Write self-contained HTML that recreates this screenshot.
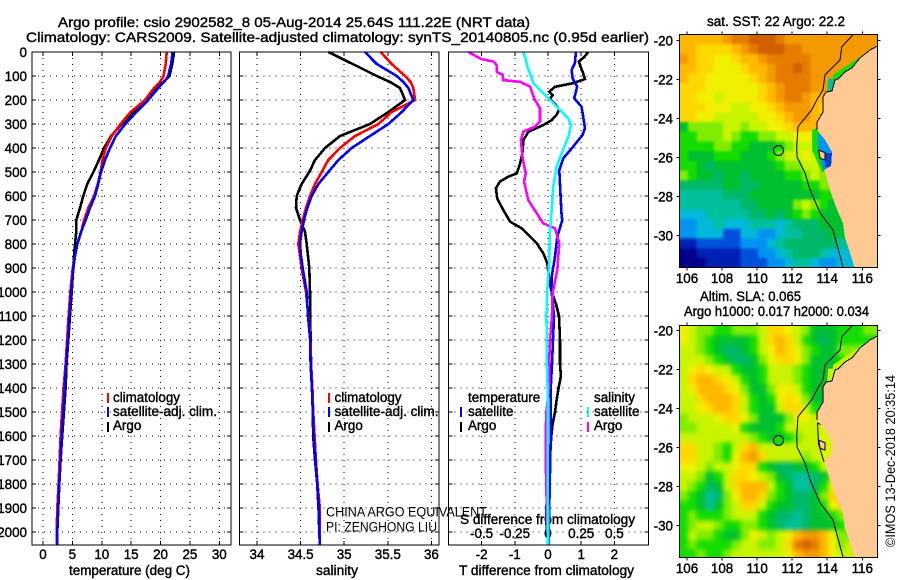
<!DOCTYPE html>
<html lang="en">
<head>
<meta charset="utf-8">
<title>Argo profile csio 2902582_8</title>
<style>
html,body{margin:0;padding:0;background:#fff;}
svg{display:block;font-family:"Liberation Sans",sans-serif;}
text{fill:#000;font-size:13.4px;stroke:#000;stroke-width:.4px;}
.thin{stroke:none;}
</style>
</head>
<body>
<svg id="chart" xmlns="http://www.w3.org/2000/svg" width="900" height="580" viewBox="0 0 900 580">
<rect width="900" height="580" fill="#fff"/>
<defs>
<clipPath id="clip-map-1"><rect x="679.3" y="34.3" width="198" height="233"/></clipPath>
<clipPath id="clip-map-2"><rect x="679.3" y="325.7" width="198" height="231.6"/></clipPath>
<filter id="blur-sst" filterUnits="userSpaceOnUse" x="640" y="0" width="260" height="300" color-interpolation-filters="sRGB"><feGaussianBlur stdDeviation="1.4"/></filter>
<filter id="blur-sla" filterUnits="userSpaceOnUse" x="640" y="290" width="260" height="290" color-interpolation-filters="sRGB"><feGaussianBlur stdDeviation="2.5"/></filter>
</defs>
<text x="58" y="27" style="font-size:14px" textLength="472" lengthAdjust="spacingAndGlyphs">Argo profile: csio 2902582_8 05-Aug-2014 25.64S 111.22E (NRT data)</text>
<text x="26" y="42" style="font-size:14px" textLength="623" lengthAdjust="spacingAndGlyphs">Climatology: CARS2009. Satellite-adjusted climatology: synTS_20140805.nc (0.95d earlier)</text>
<text x="69" y="575" textLength="121" lengthAdjust="spacingAndGlyphs">temperature (deg C)</text>
<text x="316" y="575" textLength="42" lengthAdjust="spacingAndGlyphs">salinity</text>
<text x="459" y="575" textLength="175" lengthAdjust="spacingAndGlyphs">T difference from climatology</text>
<text x="460" y="524" textLength="175" lengthAdjust="spacingAndGlyphs">S difference from climatology</text>
<text class="thin" x="326" y="516.5" textLength="161" lengthAdjust="spacingAndGlyphs">CHINA ARGO EQUIVALENT</text>
<text class="thin" x="326" y="531.5" textLength="111" lengthAdjust="spacingAndGlyphs">PI: ZENGHONG LIU</text>

<g>
<text x="113" y="402">climatology</text>
<text x="113" y="416" textLength="104" lengthAdjust="spacingAndGlyphs">satellite-adj. clim.</text>
<text x="113" y="430">Argo</text>
<rect x="107" y="393" width="2" height="10" fill="#f00"/>
<rect x="107" y="407" width="2" height="10" fill="#00f"/>
<rect x="107" y="422" width="2" height="10" fill="#000"/>
</g>
<g>
<text x="334.5" y="402">climatology</text>
<text x="334.5" y="416" textLength="104" lengthAdjust="spacingAndGlyphs">satellite-adj. clim.</text>
<text x="334.5" y="430">Argo</text>
<rect x="328" y="393" width="2" height="10" fill="#f00"/>
<rect x="328" y="407" width="2" height="10" fill="#00f"/>
<rect x="328" y="422" width="2" height="10" fill="#000"/>
</g>
<g>
<text x="468" y="402">temperature</text>
<text x="468" y="416">satellite</text>
<text x="468" y="430">Argo</text>
<text x="594" y="402">salinity</text>
<text x="594" y="416">satellite</text>
<text x="594" y="430">Argo</text>
<rect x="460" y="407" width="2" height="10" fill="#00f"/>
<rect x="460" y="422" width="2" height="10" fill="#000"/>
<rect x="587" y="407" width="2" height="10" fill="#0ff"/>
<rect x="587" y="422" width="2" height="10" fill="#f0f"/>
</g>

<text x="707" y="26" textLength="138" lengthAdjust="spacingAndGlyphs">sat. SST: 22 Argo: 22.2</text>
<text x="700" y="301" textLength="101" lengthAdjust="spacingAndGlyphs">Altim. SLA: 0.065</text>
<text x="684" y="316" textLength="185" lengthAdjust="spacingAndGlyphs">Argo h1000: 0.017 h2000: 0.034</text>
<text class="thin" transform="translate(895,547) rotate(-90)" style="font-size:14px" textLength="172" lengthAdjust="spacingAndGlyphs">©IMOS 13-Dec-2018 20:35:14</text>
</svg>

<script>
// ---------- profile data ----------
const depthLevels = [0,50,100,125,150,200,250,300,350,400,450,500,550,600,650,700,750,800,850,900,1000,1100,1200,1300,1400,1500,1600,1700,1800,1900,2000,2054];
const tempArgo = [22.3,22.0,21.5,20.5,19.06,17.47,15.37,13.39,11.6,10.38,9.53,8.57,7.54,6.86,6.3,5.67,5.65,5.45,5.27,5.16,4.88,4.6,4.3,4.0,3.85,3.55,3.27,3.0,2.66,2.6,2.44,2.44];
const tempClim = [21.04,20.87,20.5,19.9,18.9,17.36,14.9,13.2,11.7,10.7,10.1,9.8,9.3,8.7,7.7,7.0,6.5,5.85,5.45,5.05,4.65,4.35,4.1,3.85,3.5,3.23,3.0,2.83,2.66,2.44,2.33,2.4];
const tempSat = [22.06,21.8,21.3,20.6,19.6,17.9,15.9,14.0,12.4,11.4,10.55,9.87,9.4,8.85,8.0,7.26,6.47,5.84,5.45,5.16,4.82,4.5,4.25,3.95,3.7,3.46,3.18,3.0,2.78,2.6,2.44,2.44];
const salArgo = [34.818,35.098,35.373,35.526,35.64,35.698,35.507,35.296,34.952,34.78,34.665,34.6,34.512,34.455,34.447,34.493,34.55,34.57,34.585,34.6,34.608,34.61,34.615,34.62,34.63,34.64,34.645,34.665,34.69,34.705,34.715,34.72];
const salClim = [35.419,35.545,35.698,35.763,35.793,35.813,35.545,35.392,35.124,34.952,34.818,34.742,34.665,34.608,34.562,34.524,34.493,34.474,34.493,34.512,34.562,34.59,34.612,34.62,34.635,34.645,34.66,34.675,34.695,34.72,34.72,34.72];
const salSat = [35.239,35.373,35.602,35.679,35.736,35.793,35.66,35.507,35.296,35.086,34.933,34.818,34.704,34.627,34.577,34.539,34.512,34.493,34.505,34.524,34.57,34.585,34.61,34.615,34.63,34.64,34.65,34.67,34.69,34.71,34.715,34.72];

const dTArgoDepth = [0,20,40,60,85,113,130,145,165,180,195,215,240,265,285,304,332,367,422,464,506,519,540,568,610,658,707,735,797,839,881,950,1000,1050,1100,1200,1300,1350,1400,1450,1500,1550,1600,1700,1800,1900,1950,2000,2054];
const dTArgo = [1.21,1.1,.93,.98,1.05,1.11,.75,.21,.04,.14,.06,.2,.34,.24,.1,-.14,-.59,-.74,-.77,-.84,-.94,-1.19,-1.45,-1.57,-1.53,-1.35,-1.14,-.79,-.34,-.14,-.02,.04,.11,.24,.33,.36,.36,.39,.32,.26,.21,.14,.1,.05,0,-.05,-.06,-.02,0];
const dTSatDepth = [0,47,75,110,144,193,228,269,318,346,394,443,492,603,679,700,769,853,936,1000,1100,1200,1300,1400,1500,1600,1700,1800,1900,2000,2054];
const dTSat = [.84,.81,.71,.74,.88,.79,1.01,1.06,1.11,1.04,.76,.46,.34,.38,.41,.43,.28,.21,.11,.11,.18,.15,.12,.08,.08,.08,.07,.05,.04,.02,.02];
const dSSatDepth = [0,33,61,89,130,158,200,242,276,304,353,422,478,561,658,742,881,992,1100,1200,1300,1400,1500,1600,1700,1800,1900,2000,2054];
const dSSat = [-.186,-.166,-.156,-.136,-.11,-.06,.015,.09,.153,.173,.153,.103,.065,.04,.028,.015,.008,-.005,-.012,-.008,-.008,-.003,-.003,-.003,-.003,-.003,0,0,0];
const dSArgoDepth = [0,30,40,54,82,96,117,124,144,193,235,290,311,332,367,436,506,540,617,672,714,735,797,908,1006,1100,1200,1300,1400,1500,1600,1700,1800,1900,2000];
const dSArgo = [-.6,-.5,-.41,-.387,-.387,-.34,-.337,-.21,-.135,-.105,-.06,-.06,-.098,-.186,-.203,-.193,-.168,-.18,-.148,-.085,-.035,.053,.085,.07,.035,.03,.015,.008,.008,-.012,-.018,-.018,-.012,-.01,-.005];

// ---------- tick labels ----------
const depthTicks = [0,100,200,300,400,500,600,700,800,900,1000,1100,1200,1300,1400,1500,1600,1700,1800,1900,2000];
const tempTicks = [0,5,10,15,20,25,30];
const salTicks = [34,34.5,35,35.5,36];
const dTTicks = [-2,-1,0,1,2];
const dSTicks = [-0.5,-0.25,0,0.25,0.5];
const lonTicks = [106,108,110,112,114,116];
const latTicks = [-20,-22,-24,-26,-28,-30];

// ---------- map data: one character per half-degree cell, index into mapPalette ----------
const mapPalette = {
 '0':'#00008c','1':'#0020b4','2':'#0050dc','3':'#0094f0','4':'#00b8d8','5':'#00c09c','6':'#00b868','7':'#00c030','8':'#14dc00',
 '9':'#80ec00','a':'#c8f400','b':'#f0f000','c':'#ffd800','d':'#ffb800','e':'#f49a00','f':'#e47c00','g':'#d06000'};
const sstRows = [
 "dddddeffgggfeeeeeeeeeee",
 "ddccccdefgggffeeeeeeeee",
 "edccbbcddefffffeeeeeeee",
 "ddccbbbcddeffgfeeeeeeee",
 "dccbbbbbcdeffffeeeeeeee",
 "cccbbbbbbcdefffeedddddd",
 "ccbbabbbbcdeffeddbbbbbb",
 "cccbbbaabbcdeeedcbbbbbb",
 "ccbbaaaaabbcdeedcbbcccc",
 "79999aa9aabbcdddcbabbbb",
 "88999a98899aabbbbaab933",
 "888899887778"+"9aabbaa"+"7333",
 "8777888777"+"89aab"+"aa"+"7"+"23333",
 "8876777777"+"7899aa987"+"7777",
 "9877677677"+"77889a987"+"7777",
 "6666677667"+"777788998"+"7777",
 "5555566677"+"777777888"+"7777",
 "5555555667"+"7779a9877"+"7777",
 "4445555566"+"767898777"+"7777",
 "3344544455"+"545666777"+"6666",
 "3344422443"+"345566677"+"6666",
 "1122222333"+"456666665"+"5555",
 "0011111223"+"345666544"+"4444",
 "0001111222"+"334554334"+"4444"];
const slaRows = [
 "ba9988999accba977788899",
 "ba9877778acdca876788888",
 "aa9876678abdcb987799999",
 "aaa9876679bccb97778aaaa",
 "abcbaa8778aaa987778aaaa",
 "acddcba878aaa987778bbbb",
 "abdddcb9779bba8778abbbb",
 "aacdddca878bcb9778abbbb",
 "aabcddca877acca88aabbbb",
 "9aaabccb97779bba9abbbbb",
 "99aaaab87778aaaabbbbbbb",
 "aaaaaaaa"+"9877"+"89"+"aaaaa"+"bbbb",
 "ccaa98acd"+"aaaaaaaaaa"+"bbbb",
 "ccaa98bdec"+"aaaa9aaaa"+"bbbb",
 "bba9aabcc"+"8766778"+"aaa"+"bbbb",
 "aa978accba"+"976556"+"79b"+"bbbb",
 "a9867acddd"+"a87556"+"8bc"+"cbbb",
 "987569bddc"+"9876679cd"+"cbbb",
 "887579acca"+"8776678bc"+"baaa",
 "898889aaa8"+"766567789"+"aaaa",
 "89aa988998"+"765567778"+"aaaa",
 "8a998779ba"+"9abdeedb9"+"9aaa",
 "8988889aa9"+"9acfgfdb9"+"aaaa",
 "889889aaaa"+"aabdeedba"+"aaaa"];

// ---------- geography ----------
const floatLon = 111.22;
const floatLat = -25.64;
const coastLon = [116.86,116.44,115.87,115.41,115.01,114.61,114.44,114.27,113.93,113.76,113.76,113.42,113.42,113.87,114.27,114.22,113.82,114.16,114.56,114.90,115.01,115.58,117.2,117.2];
const coastLat = [-20.27,-20.48,-20.89,-21.40,-21.61,-21.97,-22.02,-22.58,-22.64,-22.89,-23.66,-24.18,-24.59,-25.10,-25.72,-26.44,-26.64,-27.67,-28.70,-29.37,-30.09,-31.70,-31.70,-20.27];
const shelfLon = [114.33,115.01,115.7,116.55,116.9,116.9,114.3];
const shelfLat = [-21.76,-21.35,-20.94,-20.48,-20.27,-21.2,-22.8];
const gulfLon = [114.05,114.40,114.25,114.0];
const gulfLat = [-21.95,-21.95,-22.62,-22.62];
const bayLon = [113.13,113.42,114.27,114.33,113.70,113.13];
const bayLat = [-24.59,-24.49,-25.62,-26.54,-26.75,-25.62];
const bayInnerLon = [113.45,113.9,114.35,114.35,113.8,113.5];
const bayInnerLat = [-24.75,-24.9,-25.6,-26.5,-26.7,-25.8];
const bayDeepLon = [113.87,114.3,114.3,113.87];
const bayDeepLat = [-25.77,-25.77,-26.5,-26.5];
const isleLon = [113.5,113.87,113.87,113.6];
const isleLat = [-25.62,-25.75,-26.13,-26.05];
const contourLon = [115.45,114.83,114.73,113.87,113.76,113.40,113.11,112.33,112.26,112.28,112.73,113.02,113.59,114.33,114.90];
const contourLat = [-19.71,-20.31,-20.99,-21.76,-22.53,-23.05,-23.56,-24.42,-25.45,-25.98,-26.80,-27.67,-28.85,-29.73,-31.63];

// ---------- drawing ----------
const NS = 'http://www.w3.org/2000/svg';
const svg = document.getElementById('chart');
function make(tag, parent, attrs, name) {
  const el = document.createElementNS(NS, tag);
  for (const k in attrs) el.setAttribute(k, attrs[k]);
  
  
  parent.appendChild(el);
  return el;
}
function label(parent, x, y, txt, anchor, name) {
  const t = make('text', parent, {x: x, y: y, 'text-anchor': anchor}, name);
  t.textContent = txt;
  return t;
}
const TOP = 52, BOTTOM = 545;
const depthY = d => TOP + d * 0.24;

function drawPanel(name, left, right, xScales, yLabels) {
  const g = make('g', svg, {}, name);
  depthTicks.forEach(d => {
    if (d === 0) return;
    make('line', g, {x1: left, x2: right, y1: depthY(d), y2: depthY(d), stroke: '#000', 'stroke-width': 1, 'stroke-dasharray': '1 5', 'shape-rendering': 'crispEdges'}, 'depth-gridline');
    make('line', g, {x1: left, x2: left + 4, y1: depthY(d), y2: depthY(d), stroke: '#000', 'shape-rendering': 'crispEdges'}, 'depth-tick');
    make('line', g, {x1: right - 4, x2: right, y1: depthY(d), y2: depthY(d), stroke: '#000', 'shape-rendering': 'crispEdges'}, 'depth-tick');
  });
  xScales.forEach(v => {
    make('line', g, {x1: v, x2: v, y1: TOP, y2: BOTTOM, stroke: '#000', 'stroke-width': 1, 'stroke-dasharray': '1 5', 'shape-rendering': 'crispEdges'}, 'value-gridline');
    make('line', g, {x1: v, x2: v, y1: TOP, y2: TOP + 4, stroke: '#000', 'shape-rendering': 'crispEdges'}, 'value-tick');
    make('line', g, {x1: v, x2: v, y1: BOTTOM - 4, y2: BOTTOM, stroke: '#000', 'shape-rendering': 'crispEdges'}, 'value-tick');
  });
  if (yLabels) depthTicks.forEach(d => label(g, 27, depthY(d) + 5, String(d), 'end', 'depth-tick-label'));
  return g;
}
function drawFrame(g, left, right) {
  make('rect', g, {x: left, y: TOP, width: right - left, height: BOTTOM - TOP, fill: 'none', stroke: '#000', 'stroke-width': 1, 'shape-rendering': 'crispEdges'}, 'panel-frame');
}
function drawProfile(g, depths, values, xf, color, width, name) {
  const pts = depths.map((d, i) => xf(values[i]).toFixed(1) + ',' + depthY(d).toFixed(1)).join(' ');
  make('polyline', g, {points: pts, fill: 'none', stroke: color, 'stroke-width': width, 'shape-rendering': 'crispEdges'}, name);
}
const LW = 2.6;

// temperature panel
const tempX = t => 43 + t * 5.877;
const gT = drawPanel('temperature-panel', 32, 231, tempTicks.map(tempX), true);
tempTicks.forEach(t => label(gT, tempX(t), 559, String(t), 'middle', 'temperature-tick-label'));
drawProfile(gT, depthLevels, tempArgo, tempX, '#000', LW, 'temperature-argo-line');
drawProfile(gT, depthLevels, tempClim, tempX, '#f00', LW, 'temperature-climatology-line');
drawProfile(gT, depthLevels, tempSat, tempX, '#00f', LW, 'temperature-satellite-line');
drawFrame(gT, 32, 231);

// salinity panel
const salX = s => 257 + (s - 34) * 87.2;
const gS = drawPanel('salinity-panel', 239.5, 439, salTicks.map(salX), false);
salTicks.forEach(s => label(gS, salX(s), 559, String(s), 'middle', 'salinity-tick-label'));
drawProfile(gS, depthLevels, salArgo, salX, '#000', LW, 'salinity-argo-line');
drawProfile(gS, depthLevels, salClim, salX, '#f00', LW, 'salinity-climatology-line');
drawProfile(gS, depthLevels, salSat, salX, '#00f', LW, 'salinity-satellite-line');
drawFrame(gS, 239.5, 439);

// difference panel
const dTX = v => 548 + v * 33.2;
const dSX = v => 548 + v * 132.8;
const gD = drawPanel('difference-panel', 448.5, 648.5, dTTicks.map(dTX), false);
dTTicks.forEach(v => label(gD, dTX(v), 559, String(v), 'middle', 't-difference-tick-label'));
dSTicks.forEach(v => label(gD, dSX(v), 538, String(v), 'middle', 's-difference-tick-label'));
drawProfile(gD, dTArgoDepth, dTArgo, dTX, '#000', LW, 't-difference-argo-line');
drawProfile(gD, dTSatDepth, dTSat, dTX, '#00f', LW, 't-difference-satellite-line');
drawProfile(gD, dSArgoDepth, dSArgo, dSX, '#f0f', LW, 's-difference-argo-line');
drawProfile(gD, dSSatDepth, dSSat, dSX, '#0ff', LW, 's-difference-satellite-line');
drawFrame(gD, 448.5, 648.5);

// maps
const LAND = '#ffc994';
const lonX = lon => 687 + (lon - 106) * 17.53;
function drawMap(name, rows, top, bottom, y20, clipId, lonLabelY, opt) {
  const left = 679.3, right = 877.3;
  const latY = lat => y20 + (-20 - lat) * 19.46;
  const poly = (lons, lats) => lons.map((v, i) => lonX(v).toFixed(1) + ',' + latY(lats[i]).toFixed(1)).join(' ');
  const g = make('g', svg, {}, name);
  const inner = make('g', g, {'clip-path': 'url(#' + clipId + ')'}, name + '-field');
  const cells = make('g', inner, {filter: 'url(#' + opt.blur + ')'}, name + '-cells');
  const lat0 = -20 - (top - y20) / 19.46;
  rows.forEach((row, i) => {
    for (let j = 0; j < row.length; j++) {
      let x0 = lonX(105.55 + j * 0.5), x1 = lonX(105.55 + (j + 1) * 0.5);
      let y0 = latY(lat0 - i * 0.5), y1 = latY(lat0 - (i + 1) * 0.5);
      if (j === 0) x0 -= 14;
      if (i === 0) y0 -= 14;
      if (i === rows.length - 1) y1 += 14;
      make('rect', cells, {x: x0.toFixed(1), y: y0.toFixed(1), width: (x1 - x0 + 0.4).toFixed(1), height: (y1 - y0 + 0.4).toFixed(1), fill: mapPalette[row[j]], 'shape-rendering': 'crispEdges'}, 'map-cell');
    }
  });
  make('polygon', inner, {points: poly(shelfLon, shelfLat), fill: opt.shelf}, 'coastal-shelf-water');
  make('polygon', inner, {points: poly(gulfLon, gulfLat), fill: opt.gulf}, 'exmouth-gulf-water');
  make('polygon', inner, {points: poly(bayLon, bayLat), fill: opt.bay}, 'shark-bay-water');
  make('polygon', inner, {points: poly(bayInnerLon, bayInnerLat), fill: opt.bayInner, stroke: opt.bayStroke, 'stroke-width': 1}, 'shark-bay-inner-water');
  make('polygon', inner, {points: poly(bayDeepLon, bayDeepLat), fill: opt.bayDeep}, 'shark-bay-deep-water');
  make('polygon', inner, {points: poly(coastLon, coastLat), fill: LAND, 'shape-rendering': 'crispEdges'}, 'land-mass');
  make('polygon', inner, {points: poly(isleLon, isleLat), fill: LAND, stroke: '#000', 'stroke-width': 1}, 'shark-bay-peninsula');
  make('polyline', inner, {points: poly(coastLon.slice(0, 13), coastLat.slice(0, 13)), fill: 'none', stroke: '#000', 'stroke-width': 1, 'shape-rendering': 'crispEdges'}, 'coastline');
  make('polyline', inner, {points: poly(contourLon, contourLat), fill: 'none', stroke: '#000', 'stroke-width': 1}, 'bathymetry-contour');
  make('circle', inner, {cx: lonX(floatLon).toFixed(1), cy: latY(floatLat).toFixed(1), r: 5, fill: opt.marker, stroke: '#000', 'stroke-width': 1}, 'argo-float-marker');
  make('rect', g, {x: left, y: top, width: right - left, height: bottom - top, fill: 'none', stroke: '#000', 'stroke-width': 1, 'shape-rendering': 'crispEdges'}, 'map-frame');
  lonTicks.forEach(lon => {
    const x = lonX(lon);
    make('line', g, {x1: x, x2: x, y1: top - 3, y2: top, stroke: '#000', 'shape-rendering': 'crispEdges'}, 'longitude-tick');
    make('line', g, {x1: x, x2: x, y1: bottom, y2: bottom + 3, stroke: '#000', 'shape-rendering': 'crispEdges'}, 'longitude-tick');
    label(g, x, lonLabelY, String(lon), 'middle', 'longitude-tick-label');
  });
  latTicks.forEach(lat => {
    const y = latY(lat);
    make('line', g, {x1: left - 3, x2: left, y1: y, y2: y, stroke: '#000', 'shape-rendering': 'crispEdges'}, 'latitude-tick');
    make('line', g, {x1: right, x2: right + 3, y1: y, y2: y, stroke: '#000', 'shape-rendering': 'crispEdges'}, 'latitude-tick');
    label(g, 673, y + 5, String(lat), 'end', 'latitude-tick-label');
  });
}
drawMap('sst-map', sstRows, 34.3, 267.3, 40.7, 'clip-map-1', 283,
  {blur: 'blur-sst', shelf: '#14dc00', gulf: '#00c09c', bay: '#14dc00', bayInner: '#0094f0', bayStroke: 'none', bayDeep: '#0040d0', marker: 'none'});
drawMap('sla-map', slaRows, 325.7, 557.3, 330.7, 'clip-map-2', 573,
  {blur: 'blur-sla', shelf: '#c8f400', gulf: '#c8f400', bay: '#c8f400', bayInner: '#d8f400', bayStroke: '#000', bayDeep: '#d8f400', marker: '#14dc00'});
</script>
</body>
</html>
